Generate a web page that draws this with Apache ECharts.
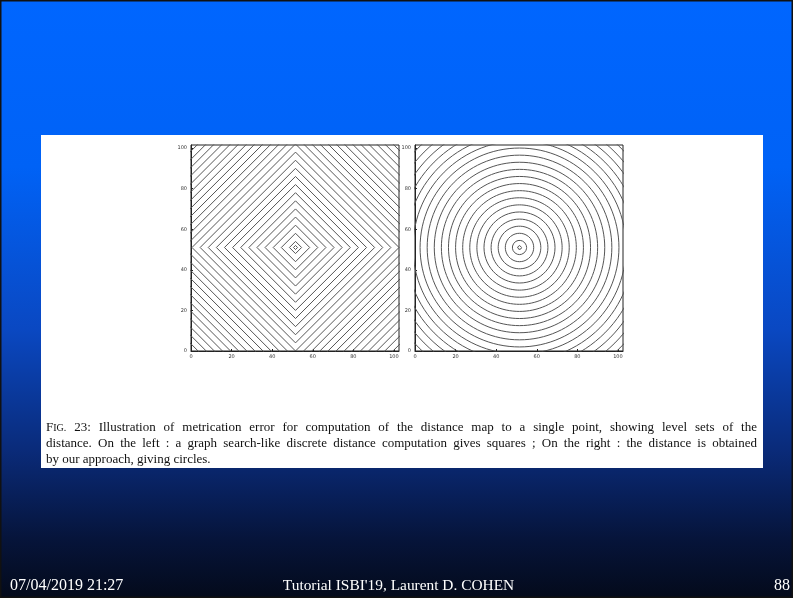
<!DOCTYPE html>
<html><head><meta charset="utf-8">
<script src="https://cdn.jsdelivr.net/npm/echarts@6/dist/echarts.min.js"></script>
<style>html,body{margin:0;padding:0;background:#000}#c{width:793px;height:598px}</style>
</head><body><div id="c"></div>
<script>
// ---- data ----
const xTicks = [0, 20, 40, 60, 80, 100];
const yTicks = [0, 20, 40, 60, 80, 100];
const sourcePoint = [51.5, 51];
const diamondLevels = [1, 3, 7, 11, 15, 19, 23, 27, 31, 35, 39, 43, 47, 51, 55, 59, 63, 67, 71, 75, 79, 83, 87, 91, 95, 99];
const circleLevels = [1, 3.5, 7, 10.5, 14, 17.5, 21, 24.5, 28, 31.5, 35, 38.5, 42, 45.5, 49, 52.5, 56, 59.5, 63, 66.5, 70, 73.5];
const captionLines = [
  "Fig. 23: Illustration of metrication error for computation of the distance map to a single point, showing level sets of the",
  "distance. On the left : a graph search-like discrete distance computation gives squares ; On the right : the distance is obtained",
  "by our approach, giving circles."
];
const footerLeft = "07/04/2019 21:27";
const footerCenter = "Tutorial ISBI'19, Laurent D. COHEN";
const footerRight = "88";

// ---- chart ----
const chart = echarts.init(document.getElementById('c'), null, {renderer: 'canvas'});
const cx = sourcePoint[0], cy = sourcePoint[1];

function diamond(r) {
  return [[cx - r, cy], [cx, cy + r], [cx + r, cy], [cx, cy - r], [cx - r, cy]];
}
function circle(r) {
  const pts = [];
  const n = 120;
  for (let i = 0; i <= n; i++) {
    const a = i / n * Math.PI * 2;
    pts.push([cx + r * Math.cos(a), cy + r * Math.sin(a)]);
  }
  return pts;
}
const lineStyle = {color: '#555555', width: 1};
const series = [];
diamondLevels.forEach(r => series.push({
  type: 'line', xAxisIndex: 0, yAxisIndex: 0, data: diamond(r), symbol: 'none',
  lineStyle, silent: true, animation: false, clip: true
}));
circleLevels.forEach(r => series.push({
  type: 'line', xAxisIndex: 1, yAxisIndex: 1, data: circle(r), symbol: 'none',
  lineStyle, silent: true, animation: false, clip: true, smooth: false
}));

function xAxis(i) {
  return {
    type: 'value', gridIndex: i, min: 0, max: 102.5,
    axisLine: {show: true, onZero: false, lineStyle: {color: '#222', width: 1}},
    axisTick: {show: true, inside: true, length: 2, customValues: xTicks, lineStyle: {color: '#222'}},
    axisLabel: {show: true, fontSize: 5, color: '#333', margin: 3, customValues: xTicks, fontFamily: 'DejaVu Sans'},
    splitLine: {show: false}
  };
}
function yAxis(i) {
  return {
    type: 'value', gridIndex: i, min: 0, max: 101.5,
    axisLine: {show: true, onZero: false, lineStyle: {color: '#222', width: 1}},
    axisTick: {show: true, inside: true, length: 2, customValues: yTicks, lineStyle: {color: '#222'}},
    axisLabel: {show: true, fontSize: 5, color: '#333', margin: 4, customValues: yTicks, fontFamily: 'DejaVu Sans'},
    splitLine: {show: false}
  };
}

// caption layout (justified)
const FS = 13;
const FONT = '"Liberation Serif", "Times New Roman", serif';
const mctx = document.createElement('canvas').getContext('2d');
function measure(t, s) { mctx.font = s + 'px ' + FONT; return mctx.measureText(t).width; }
function pieces(w) {
  if (w === 'Fig.') return [{t: 'F', s: FS}, {t: 'IG.', s: 10}];
  return [{t: w, s: FS}];
}
const captionX0 = 46, captionX1 = 757;
const captionY = [427.5, 443.5, 460];
const graphics = [];
graphics.push({type: 'rect', z: -20, shape: {x: 0, y: 0, width: 793, height: 598},
  style: {fill: new echarts.graphic.LinearGradient(0, 0, 0, 1, [
    {offset: 0, color: '#0066ff'}, {offset: 0.28, color: '#0062f6'},
    {offset: 0.55, color: '#0a48c2'}, {offset: 0.75, color: '#0a2b7a'},
    {offset: 0.9, color: '#06143a'}, {offset: 1, color: '#040a1a'}]),
    stroke: '#111', lineWidth: 3}});
graphics.push({type: 'rect', z: -19, shape: {x: 41, y: 135, width: 722, height: 333}, style: {fill: '#ffffff'}});

captionLines.forEach((line, li) => {
  const words = line.split(' ');
  const wp = words.map(pieces);
  const widths = wp.map(ps => ps.reduce((a, p) => a + measure(p.t, p.s), 0));
  const total = widths.reduce((a, b) => a + b, 0);
  const justify = li < captionLines.length - 1;
  const gap = justify ? (captionX1 - captionX0 - total) / (words.length - 1) : measure(' ', FS);
  let x = captionX0;
  wp.forEach((ps, wi) => {
    let px = x;
    ps.forEach(p => {
      graphics.push({type: 'text', z: 10, x: px, y: captionY[li] + 0.36 * (FS - p.s),
        style: {text: p.t, font: p.s + 'px ' + FONT, fill: '#111', textAlign: 'left',
          verticalAlign: 'middle', textVerticalAlign: 'middle'}});
      px += measure(p.t, p.s);
    });
    x += widths[wi] + gap;
  });
});

const FFONT = '16px "Liberation Serif", "Times New Roman", serif';
graphics.push({type: 'text', z: 10, x: 10, y: 586, style: {text: footerLeft, font: FFONT, fill: '#fff', textAlign: 'left', verticalAlign: 'middle', textVerticalAlign: 'middle'}});
graphics.push({type: 'text', z: 10, x: 398.5, y: 586, style: {text: footerCenter, font: '15.4px "Liberation Serif", serif', fill: '#fff', textAlign: 'center', verticalAlign: 'middle', textVerticalAlign: 'middle'}});
graphics.push({type: 'text', z: 10, x: 790, y: 586, style: {text: footerRight, font: FFONT, fill: '#fff', textAlign: 'right', verticalAlign: 'middle', textVerticalAlign: 'middle'}});

chart.setOption({
  animation: false,
  backgroundColor: '#0066ff',
  graphic: graphics,
  grid: [
    {left: 191, top: 145, width: 208, height: 206, show: true, borderColor: '#222', borderWidth: 1, backgroundColor: 'transparent'},
    {left: 415, top: 145, width: 208, height: 206, show: true, borderColor: '#222', borderWidth: 1, backgroundColor: 'transparent'}
  ],
  xAxis: [xAxis(0), xAxis(1)],
  yAxis: [yAxis(0), yAxis(1)],
  series
});
</script></body></html>
